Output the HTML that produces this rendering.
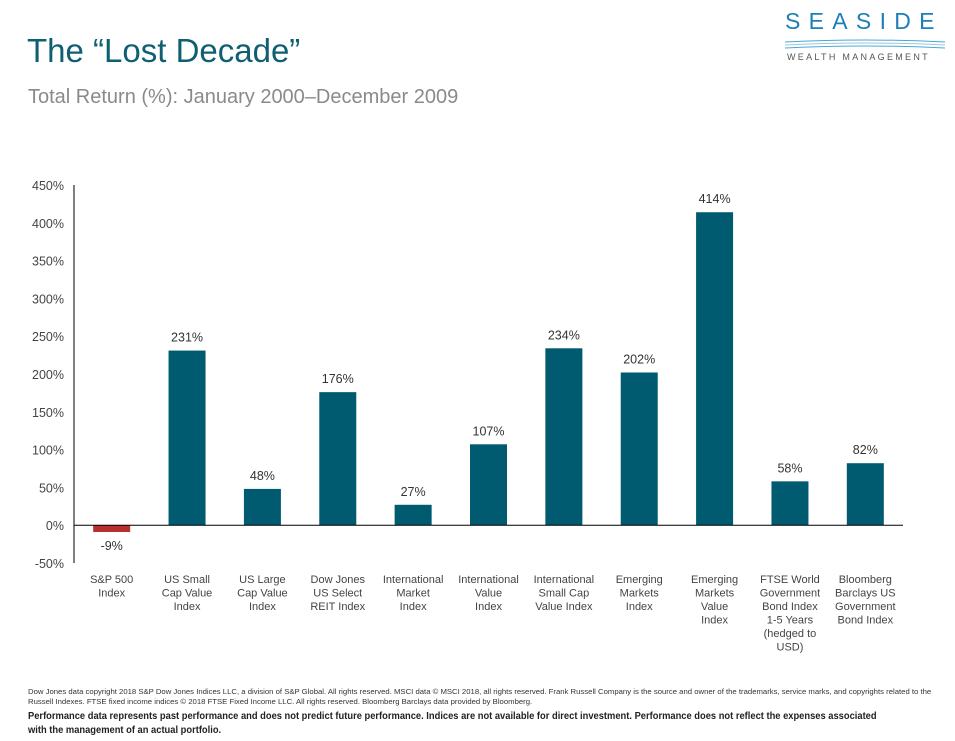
<!DOCTYPE html>
<html><head><meta charset="utf-8"><style>
body{margin:0;width:955px;height:741px;background:#fff;font-family:"Liberation Sans",sans-serif;position:relative;overflow:hidden}
.t{position:absolute;white-space:nowrap}
</style></head><body>
<div class="t" style="left:27px;top:32px;font-size:33px;color:#0f5f73">The “Lost Decade”</div>
<div class="t" style="left:28px;top:86px;font-size:20px;color:#8a8a8a">Total Return (%): January 2000–December 2009</div>
<div style="position:absolute;left:785px;top:8px;width:162px;height:50px">
<div class="t" style="left:0;top:0;font-size:23px;letter-spacing:8.3px;color:#1d7fb8">SEASIDE</div>
<svg width="160" height="14" style="position:absolute;top:30px;left:0"><path d="M0 4 Q80 0 160 4" stroke="#4aa8d8" fill="none"/><path d="M0 7 Q80 3 160 7" stroke="#9ac8e0" fill="none"/><path d="M0 10 Q80 6 160 10" stroke="#4aa8d8" fill="none"/></svg>
<div class="t" style="left:2px;top:44px;font-size:9px;letter-spacing:2.3px;color:#555">WEALTH MANAGEMENT</div>
</div>
<svg id="chart" width="955" height="741" style="position:absolute;left:0;top:0" font-family="Liberation Sans, sans-serif"></svg>
<div class="t" style="left:28px;top:687px;font-size:7.5px;color:#333;line-height:10px;transform:scaleX(1.03);transform-origin:left top">Dow Jones data copyright 2018 S&amp;P Dow Jones Indices LLC, a division of S&amp;P Global. All rights reserved. MSCI data © MSCI 2018, all rights reserved. Frank Russell Company is the source and owner of the trademarks, service marks, and copyrights related to the<br>Russell Indexes. FTSE fixed income indices © 2018 FTSE Fixed Income LLC. All rights reserved. Bloomberg Barclays data provided by Bloomberg.</div>
<div class="t" style="left:28px;top:709px;font-size:10.5px;font-weight:bold;color:#222;line-height:14px;transform:scaleX(0.89);transform-origin:left top">Performance data represents past performance and does not predict future performance. Indices are not available for direct investment. Performance does not reflect the expenses associated<br>with the management of an actual portfolio.</div>
<script>
const categories=[["S&P 500","Index"],["US Small","Cap Value","Index"],["US Large","Cap Value","Index"],["Dow Jones","US Select","REIT Index"],["International","Market","Index"],["International","Value","Index"],["International","Small Cap","Value Index"],["Emerging","Markets","Index"],["Emerging","Markets","Value","Index"],["FTSE World","Government","Bond Index","1-5 Years","(hedged to","USD)"],["Bloomberg","Barclays US","Government","Bond Index"]];
const values=[-9,231,48,176,27,107,234,202,414,58,82];
const ticks=[-50,0,50,100,150,200,250,300,350,400,450];
const svg=document.getElementById('chart');const NS='http://www.w3.org/2000/svg';
const x0=74,x1=903,yMin=-50,yMax=450,pTop=185,pBot=563;
const y=v=>pBot-(v-yMin)/(yMax-yMin)*(pBot-pTop);
const bw=(x1-x0)/categories.length;const cx=i=>x0+bw*(i+0.5);
function el(t,a){const e=document.createElementNS(NS,t);for(const k in a)e.setAttribute(k,a[k]);svg.appendChild(e);return e;}
ticks.forEach(t=>{const e=el('text',{x:64,y:y(t)+5,'text-anchor':'end','font-size':12.5,fill:'#444'});e.textContent=t+'%';

});
values.forEach((v,i)=>{const top=Math.min(y(v),y(0)),h=Math.abs(y(v)-y(0));
const r=el('rect',{x:cx(i)-18.5,y:top,width:37,height:h,fill:v<0?'#b8302e':'#005a70'});


const ly=v<0?y(v)+18:y(v)-9;
const l=el('text',{x:cx(i),y:ly,'text-anchor':'middle','font-size':12.5,fill:'#333'});l.textContent=v+'%';


categories[i].forEach((s,j)=>{const c=el('text',{x:cx(i),y:583+j*13.5,'text-anchor':'middle','font-size':11,fill:'#444'});c.textContent=s;

});});
const ya=el('line',{x1:x0,x2:x0,y1:pTop,y2:pBot,stroke:'#000','stroke-width':1});


const xa=el('line',{x1:x0,x2:x1,y1:y(0),y2:y(0),stroke:'#000','stroke-width':1});


</script>
</body></html>
